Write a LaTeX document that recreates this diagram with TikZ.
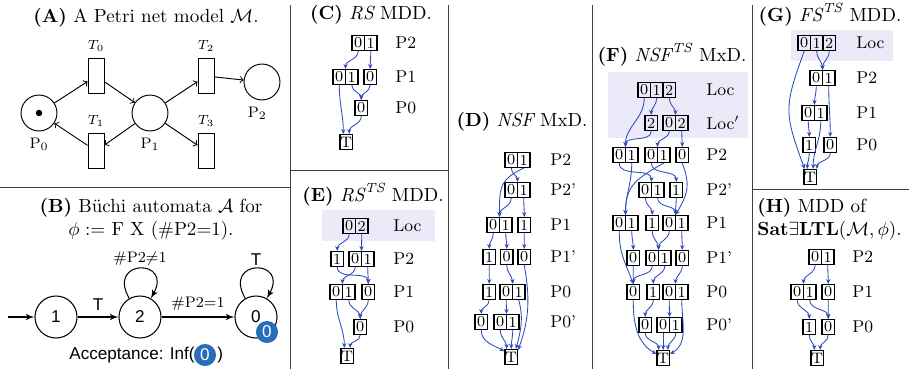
\documentclass[tikz,border=0pt]{standalone}
\usepackage{fontspec}
\usepackage{tikz}
\usetikzlibrary{arrows,arrows.meta,positioning,automata,calc}
\usepackage{xcolor}
\newfontfamily\helv{Liberation Sans}
\definecolor{mddblue}{RGB}{45,75,190}
\definecolor{accblue}{RGB}{38,110,184}
\definecolor{bandcol}{RGB}{236,233,248}
% one MDD node: name, left edge, row, cell values
\newcommand{\mddnode}[4]{%
  \foreach \v [count=\i] in {#4}{%
    \node[cell] (#1-\i) at ({#2+(\i-0.5)*12.5},#3) {\v};
    \coordinate (#1) at ($(#1-1.north west)!0.5!(#1-\i.north east)$);
  }}
\begin{document}
\begin{tikzpicture}[x=0.526pt,y=-0.526pt,>=stealth',
    cell/.style={draw,inner sep=0pt,minimum width=6.58pt,minimum height=7.9pt,font=\footnotesize,line width=0.55pt},
    lvl/.style={anchor=west,font=\small,inner sep=0pt},
    arc/.style={draw=mddblue,-{Stealth[length=2.6pt,width=2.2pt]},line width=0.45pt,out=-90,in=90},
    divider/.style={draw=black!75,line width=0.5pt},
    every state/.style={circle,draw,minimum size=22.1pt,inner sep=0pt,font=\helv\small,line width=0.55pt}]
  \useasboundingbox (0,0) rectangle (909,371);

  \tikzset{place/.style={circle,draw,minimum size=18.9pt,inner sep=0pt,line width=0.5pt}}
  \tikzset{trans/.style={rectangle,draw,minimum width=8.4pt,minimum height=18.4pt,inner sep=0pt,line width=0.5pt}}
  \tikzset{pn/.style={-to,line width=0.5pt}}
  \tikzset{aut/.style={-latex',line width=0.55pt}}
  \tikzset{badge/.style={circle,fill=accblue,text=white,minimum size=11.6pt,inner sep=0pt,font=\helv\small}}

  % panel borders
  \draw[divider] (290,5) -- (290,369);
  \draw[divider] (0,187) -- (290,187);
  \draw[divider] (290,170) -- (448,170);
  \draw[divider] (448,5) -- (448,369);
  \draw[divider] (592,5) -- (592,369);
  \draw[divider] (752,5) -- (752,369);
  \draw[divider] (752,189) -- (909,189);

  % location bands
  \fill[bandcol] (322,210) rectangle (435,241);
  \fill[bandcol] (608,72) rectangle (748,138);
  \fill[bandcol] (791,30) rectangle (893,61);

  % titles
  \node (ta) at (146,18) {\textbf{(A)} A Petri net model $\mathcal{M}$.};
  \node[align=center] (tb) at (151,219) {\textbf{(B)} Büchi automata $\mathcal{A}$ for\\ $\phi :=$ F X (\#P2=1).};
  \node (tc) at (371,15) {\textbf{(C)} $\mathit{RS}$ MDD.};
  \node (td) at (522,122) {\textbf{(D)} $\mathit{NSF}$ MxD.};
  \node (te) at (373,195) {\textbf{(E)} $\mathit{RS}^{\mathit{TS}}$ MDD.};
  \node (tf) at (672,55) {\textbf{(F)} $\mathit{NSF}^{\mathit{TS}}$ MxD.};
  \node (tg) at (830,15) {\textbf{(G)} $\mathit{FS}^{\mathit{TS}}$ MDD.};
  \node[anchor=west,align=left,inner sep=0pt] (th) at (757,219) {\textbf{(H)} MDD of\\ \textbf{Sat}$\exists$\textbf{LTL}$(\mathcal{M},\phi)$.};

  % (A) Petri net
  \node[place] (p0) at (39,113) {};
  \node[circle,fill,inner sep=1.2pt] (tok) at (p0) {};
  \node[trans] (t0) at (96,76) {};
  \node[trans] (t1) at (96,151) {};
  \node[place] (p1) at (150,113) {};
  \node[trans] (t2) at (206,76) {};
  \node[trans] (t3) at (206,151) {};
  \node[place] (p2) at (262,82) {};
  \node[font=\scriptsize] (lt0) [above=0pt of t0] {$T_0$};
  \node[font=\scriptsize] (lt1) [above=0pt of t1] {$T_1$};
  \node[font=\scriptsize] (lt2) [above=0pt of t2] {$T_2$};
  \node[font=\scriptsize] (lt3) [above=0pt of t3] {$T_3$};
  \node[font=\footnotesize] (lp0) [below=0pt of p0] {P$_0$};
  \node[font=\footnotesize] (lp1) [below=0pt of p1] {P$_1$};
  \node[font=\footnotesize,xshift=-2.5pt] (lp2) [below=0pt of p2] {P$_2$};
  \draw[pn] (p0) -- (t0);
  \draw[pn] (t0) -- (p1);
  \draw[pn] (p1) -- (t1);
  \draw[pn] (t1) -- (p0);
  \draw[pn] (p1) -- (t2);
  \draw[pn] (p1) -- (t3);
  \draw[pn] (t2) -- (p2);

  % (B) Buchi automaton
  \node[state] (s1) at (56,317) {1};
  \node[state] (s2) at (140,317) {2};
  \node[state] (s0) at (256,317) {0};
  \node[badge] (b0) at (267,332) {0};
  \coordinate (init) at (8,317);
  \draw[aut] (init) -- (s1);
  \path (s1) edge[aut] node[above,font=\helv\small] (lab1) {T} (s2)
        (s2) edge[aut] node[above,font=\footnotesize] (lab2) {\#P2$=$1} (s0)
        (s2) edge[aut,out=120,in=60,looseness=5.5] node[above,font=\footnotesize,inner sep=1pt] (lab3) {\#P2$\neq$1} (s2)
        (s0) edge[aut,out=120,in=60,looseness=5.5] node[above,font=\helv\small,inner sep=1pt] (lab4) {T} (s0);
  \node[font=\helv\small,anchor=east,inner sep=0pt] (acc) at (195,355) {Acceptance: Inf(};
  \node[badge] (accb) at (205,355) {0};
  \node[font=\helv\small,anchor=west,inner sep=0pt] (accr) at (217,355) {)};

  % (C) RS
  \mddnode{c2}{352}{43}{0,1}
  \mddnode{c1a}{333}{77}{0,1}
  \mddnode{c1b}{364}{77}{0}
  \mddnode{c0}{355}{108}{0}
  \mddnode{cT}{340}{142}{T}
  \node[lvl] (cl2) at (395,43) {P2};
  \node[lvl] (cl1) at (395,77) {P1};
  \node[lvl] (cl0) at (395,108) {P0};
  \path (c2-1.south) edge[arc] (c1a)
        (c2-2.south) edge[arc] (c1b)
        (c1a-1.south) edge[arc] (cT-1.110)
        (c1a-2.south) edge[arc] (c0)
        (c1b-1.south) edge[arc] (c0)
        (c0-1.south) edge[arc] (cT-1.70);

  % (E) RS^TS
  \mddnode{eL}{343}{226}{0,2}
  \mddnode{e2a}{331}{259}{1}
  \mddnode{e2b}{349}{259}{0,1}
  \mddnode{e1a}{330}{292}{0,1}
  \mddnode{e1b}{362}{292}{0}
  \mddnode{e0}{354}{327}{0}
  \mddnode{eT}{341}{356}{T}
  \node[lvl] (elL) at (393,226) {Loc};
  \node[lvl] (el2) at (393,259) {P2};
  \node[lvl] (el1) at (393,292) {P1};
  \node[lvl] (el0) at (393,327) {P0};
  \path (eL-1.south) edge[arc] (e2a)
        (eL-2.south) edge[arc] (e2b)
        (e2a-1.south) edge[arc] (e1b)
        (e2b-1.south) edge[arc] (e1a)
        (e2b-2.south) edge[arc] (e1b)
        (e1a-1.south) edge[arc] (eT-1.110)
        (e1a-2.south) edge[arc] (e0)
        (e1b-1.south) edge[arc] (e0)
        (e0-1.south) edge[arc] (eT-1.70);

  % (D) NSF
  \mddnode{d2}{505}{160}{0,1}
  \mddnode{d2p}{505}{190}{0,1}
  \mddnode{d1a}{487}{225}{0,1}
  \mddnode{d1b}{518}{225}{1}
  \mddnode{d1pa}{483}{257}{1}
  \mddnode{d1pb}{500.5}{257}{0}
  \mddnode{d1pc}{518}{257}{0}
  \mddnode{d0a}{483}{292}{1}
  \mddnode{d0b}{500}{292}{0,1}
  \mddnode{d0pa}{475}{322}{0}
  \mddnode{d0pb}{494}{322}{0,1}
  \mddnode{dT}{505}{357}{T}
  \node[lvl] (dl2) at (550,160) {P2};
  \node[lvl] (dl2p) at (550,190) {P2'};
  \node[lvl] (dl1) at (550,225) {P1};
  \node[lvl] (dl1p) at (550,257) {P1'};
  \node[lvl] (dl0) at (550,292) {P0};
  \node[lvl] (dl0p) at (550,322) {P0'};
  \path (d2-1.south) edge[arc] (d2p)
        (d2-2.south) edge[arc,out=-155,looseness=1.3] (d1a)
        (d2p-1.south) edge[arc] (d1a)
        (d2p-2.south) edge[arc] (d1b)
        (d1a-1.south) edge[arc] (d1pa)
        (d1a-2.south) edge[arc] (d1pb)
        (d1b-1.south) edge[arc] (d1pc)
        (d1pa-1.south) edge[arc] (d0a)
        (d1pb-1.south) edge[arc] (d0b)
        (d1pc-1.south) edge[arc,out=-80,in=70] (dT-1.45)
        (d0a-1.south) edge[arc] (d0pa)
        (d0b-1.south) edge[arc] (d0pb)
        (d0b-2.south) edge[arc,out=-75,in=75] (dT-1.60)
        (d0pa-1.south) edge[arc,in=150] (dT-1.140)
        (d0pb-1.south) edge[arc] (dT-1.120)
        (d0pb-2.south) edge[arc] (dT-1.north);

  % (F) NSF^TS
  \mddnode{fL}{638}{90}{0,1,2}
  \mddnode{fLpa}{645}{123}{2}
  \mddnode{fLpb}{663}{123}{0,2}
  \mddnode{f2a}{613}{155}{0,1}
  \mddnode{f2b}{645}{155}{0,1}
  \mddnode{f2c}{676}{155}{0}
  \mddnode{f2pa}{639}{190}{0,1}
  \mddnode{f2pb}{670}{190}{1}
  \mddnode{f1a}{613}{223}{0,1}
  \mddnode{f1b}{646}{223}{1}
  \mddnode{f1c}{663}{223}{0,1}
  \mddnode{f1pa}{627}{258}{0}
  \mddnode{f1pb}{646}{258}{0,1}
  \mddnode{f1pc}{676}{258}{0}
  \mddnode{f0a}{627}{292}{0}
  \mddnode{f0b}{647}{292}{1}
  \mddnode{f0c}{663}{292}{0,1}
  \mddnode{f0pa}{639}{325}{0}
  \mddnode{f0pb}{657}{325}{0,1}
  \mddnode{fT}{657}{358}{T}
  \node[lvl] (flL) at (706,90) {Loc};
  \node[lvl] (flLp) at (706,123) {Loc$'$};
  \node[lvl] (fl2) at (706,155) {P2};
  \node[lvl] (fl2p) at (706,190) {P2'};
  \node[lvl] (fl1) at (706,223) {P1};
  \node[lvl] (fl1p) at (706,258) {P1'};
  \node[lvl] (fl0) at (706,292) {P0};
  \node[lvl] (fl0p) at (706,325) {P0'};
  \path (fL-1.south) edge[arc] (f2a)
        (fL-2.south) edge[arc] (fLpa)
        (fL-3.south) edge[arc] (fLpb)
        (fLpa-1.south) edge[arc] (f2a)
        (fLpb-1.south) edge[arc] (f2b)
        (fLpb-2.south) edge[arc] (f2c)
        (f2a-1.south) edge[arc] (f2pa)
        (f2a-2.south) edge[arc] (f1a)
        (f2b-1.south) edge[arc] (f2pb)
        (f2b-2.south) edge[arc,out=-150,looseness=1.2] (f1a)
        (f2c-1.south) edge[arc,out=-70,in=60,looseness=1.2] (f1c)
        (f2pa-1.south) edge[arc] (f1b)
        (f2pa-2.south) edge[arc] (f1c)
        (f2pb-1.south) edge[arc] (f1c)
        (f1a-1.south) edge[arc,in=110,looseness=1.1] (f0a)
        (f1a-2.south) edge[arc] (f1pa)
        (f1b-1.south) edge[arc] (f1pb)
        (f1c-1.south) edge[arc] (f1pb)
        (f1c-2.south) edge[arc] (f1pc)
        (f1pa-1.south) edge[arc] (f0a)
        (f1pb-1.south) edge[arc] (f0a)
        (f1pb-2.south) edge[arc] (f0b)
        (f1pc-1.south) edge[arc] (f0c)
        (f0a-1.south) edge[arc,in=150] (fT-1.150)
        (f0b-1.south) edge[arc] (f0pa)
        (f0c-1.south) edge[arc] (f0pb)
        (f0c-2.south) edge[arc,in=30] (fT-1.30)
        (f0pa-1.south) edge[arc] (fT-1.120)
        (f0pb-1.south) edge[arc] (fT-1.north)
        (f0pb-2.south) edge[arc] (fT-1.60);

  % (G) FS^TS
  \mddnode{gL}{798}{43}{0,1,2}
  \mddnode{g2}{810}{78}{0,1}
  \mddnode{g1}{802}{113}{0,1}
  \mddnode{g0a}{803}{145}{1}
  \mddnode{g0b}{824}{145}{0}
  \mddnode{gT}{804}{177}{T}
  \node[lvl] (glL) at (856,43) {Loc};
  \node[lvl] (gl2) at (856,78) {P2};
  \node[lvl] (gl1) at (856,113) {P1};
  \node[lvl] (gl0) at (856,145) {P0};
  \path (gL-1.south) edge[arc,out=-110,in=110,looseness=1.3] (gT-1.125)
        (gL-2.south) edge[arc] (g2)
        (gL-3.south) edge[arc] (g2)
        (g2-1.south) edge[arc] (g1)
        (g2-2.south) edge[arc] (g0b)
        (g1-1.south) edge[arc] (g0a)
        (g1-2.south) edge[arc] (gT-1.70)
        (g0a-1.south) edge[arc] (gT-1.110)
        (g0b-1.south) edge[arc] (gT-1.50);

  % (H) Sat
  \mddnode{h2}{809}{257}{0,1}
  \mddnode{h1a}{791}{292}{0,1}
  \mddnode{h1b}{822}{292}{0}
  \mddnode{h0a}{803}{327}{1}
  \mddnode{h0b}{822}{327}{0}
  \mddnode{hT}{811}{358}{T}
  \node[lvl] (hl2) at (852,257) {P2};
  \node[lvl] (hl1) at (852,292) {P1};
  \node[lvl] (hl0) at (852,327) {P0};
  \path (h2-1.south) edge[arc] (h1a)
        (h2-2.south) edge[arc] (h1b)
        (h1a-1.south) edge[arc] (h0a)
        (h1a-2.south) edge[arc] (h0b)
        (h1b-1.south) edge[arc] (h0b)
        (h0a-1.south) edge[arc] (hT-1.110)
        (h0b-1.south) edge[arc] (hT-1.70);
\end{tikzpicture}
\end{document}
